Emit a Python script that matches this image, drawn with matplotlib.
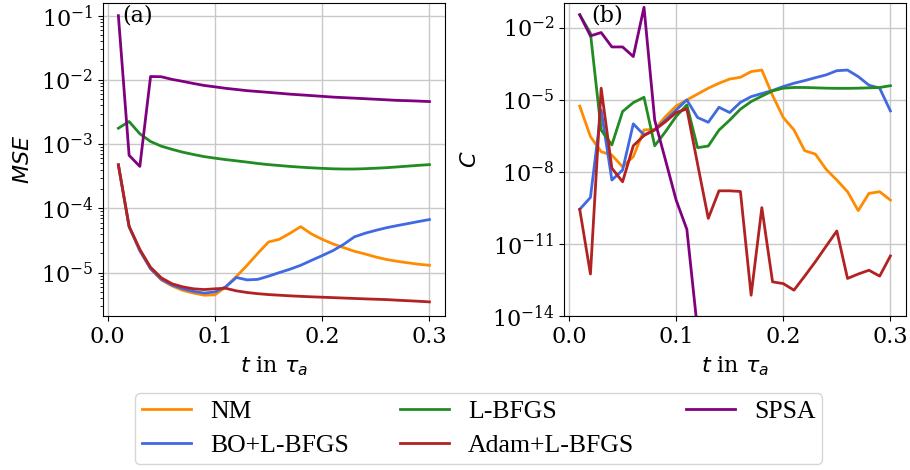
import numpy as np
import matplotlib
matplotlib.use('Agg')
import matplotlib.pyplot as plt

plt.rcParams['font.family'] = 'DejaVu Serif'
plt.rcParams['mathtext.fontset'] = 'dejavusans'

t = np.round(np.arange(1, 31) * 0.01, 2)

# MSE of each optimizer
mse_nm = [4.7e-4, 5.2e-5, 2.2e-5, 1.15e-5, 7.7e-6, 6.2e-6, 5.3e-6, 4.8e-6, 4.45e-6, 4.5e-6,
          6.0e-6, 8.7e-6, 1.3e-5, 2.0e-5, 3.0e-5, 3.3e-5, 4.1e-5, 5.2e-5, 4.0e-5, 3.3e-5,
          2.8e-5, 2.45e-5, 2.15e-5, 1.95e-5, 1.75e-5, 1.6e-5, 1.5e-5, 1.42e-5, 1.35e-5, 1.3e-5]
mse_bo = [4.7e-4, 5.2e-5, 2.2e-5, 1.15e-5, 7.9e-6, 6.4e-6, 5.6e-6, 5.1e-6, 4.8e-6, 5.0e-6,
          6.0e-6, 8.4e-6, 7.7e-6, 7.85e-6, 8.8e-6, 1.0e-5, 1.13e-5, 1.3e-5, 1.55e-5, 1.84e-5,
          2.2e-5, 2.75e-5, 3.6e-5, 4.1e-5, 4.55e-5, 5.0e-5, 5.4e-5, 5.8e-5, 6.25e-5, 6.7e-5]
mse_lbfgs = [1.77e-3, 2.25e-3, 1.45e-3, 1.1e-3, 9.3e-4, 8.3e-4, 7.5e-4, 6.9e-4, 6.4e-4, 6.05e-4,
             5.75e-4, 5.5e-4, 5.25e-4, 5.0e-4, 4.8e-4, 4.65e-4, 4.5e-4, 4.38e-4, 4.28e-4, 4.2e-4,
             4.13e-4, 4.1e-4, 4.1e-4, 4.15e-4, 4.22e-4, 4.3e-4, 4.42e-4, 4.55e-4, 4.68e-4, 4.8e-4]
mse_adam = [4.8e-4, 5.25e-5, 2.3e-5, 1.21e-5, 8.3e-6, 6.7e-6, 6.0e-6, 5.6e-6, 5.45e-6, 5.6e-6,
            5.7e-6, 5.2e-6, 4.9e-6, 4.7e-6, 4.55e-6, 4.45e-6, 4.35e-6, 4.27e-6, 4.2e-6, 4.14e-6,
            4.08e-6, 4.02e-6, 3.96e-6, 3.9e-6, 3.85e-6, 3.8e-6, 3.72e-6, 3.65e-6, 3.58e-6, 3.5e-6]
mse_spsa = [1.0e-1, 6.7e-4, 4.5e-4, 1.13e-2, 1.12e-2, 1.02e-2, 9.5e-3, 8.8e-3, 8.2e-3, 7.8e-3,
            7.4e-3, 7.1e-3, 6.8e-3, 6.6e-3, 6.4e-3, 6.2e-3, 6.0e-3, 5.85e-3, 5.7e-3, 5.55e-3,
            5.4e-3, 5.3e-3, 5.2e-3, 5.1e-3, 5.0e-3, 4.9e-3, 4.8e-3, 4.75e-3, 4.68e-3, 4.6e-3]

# cost C of each optimizer
c_nm = [5.4e-6, 2.9e-7, 6.8e-8, 4.9e-8, 1.6e-8, 4.2e-8, 5.5e-7, 5.8e-7, 1.95e-6, 5.4e-6,
        9.7e-6, 1.7e-5, 3.0e-5, 4.8e-5, 7.2e-5, 8.5e-5, 1.47e-4, 1.7e-4, 1.5e-5, 1.8e-6,
        5.5e-7, 7.5e-8, 5.4e-8, 1.26e-8, 4.5e-9, 1.47e-9, 2.4e-10, 1.25e-9, 1.47e-9, 6.6e-10]
c_bo = [2.7e-10, 8.5e-10, 3.7e-6, 4.5e-9, 1.17e-8, 9.8e-7, 3.4e-7, 5.5e-7, 1.4e-6, 3.7e-6,
        9.7e-6, 1.8e-6, 1.14e-6, 4.8e-6, 2.9e-6, 7.7e-6, 1.33e-5, 1.8e-5, 2.4e-5, 3.5e-5,
        4.8e-5, 6.2e-5, 8.2e-5, 1.07e-4, 1.6e-4, 1.7e-4, 9.1e-5, 4.0e-5, 3.0e-5, 3.4e-6]
c_lbfgs = [3.4e-2, 5.8e-3, 5.4e-7, 1.3e-7, 3.2e-6, 7.5e-6, 1.25e-5, 1.2e-7, 4.6e-7, 2.0e-6,
           6.0e-6, 1.0e-7, 1.17e-7, 5.4e-7, 1.4e-6, 4.0e-6, 8.3e-6, 1.4e-5, 2.3e-5, 3.0e-5,
           3.2e-5, 3.2e-5, 3.1e-5, 3.0e-5, 2.95e-5, 2.95e-5, 3.0e-5, 3.1e-5, 3.2e-5, 3.8e-5]
c_adam = [2.7e-10, 5.5e-13, 3.0e-5, 1.4e-8, 3.8e-9, 1.2e-7, 3.2e-7, 5.5e-7, 1.2e-6, 2.9e-6,
          4.1e-6, 2.1e-8, 1.14e-10, 1.6e-9, 1.6e-9, 1.5e-9, 7.2e-14, 3.2e-10, 2.6e-13, 2.2e-13,
          1.17e-13, 4.5e-13, 1.8e-12, 7.9e-12, 3.4e-11, 3.6e-13, 5.5e-13, 7.9e-13, 4.5e-13, 3.1e-12]
c_spsa = [3.4e-2, 4.5e-3, 6.2e-3, 1.56e-3, 1.56e-3, 6.2e-4, 7.0e-2, 1.4e-6, 3.1e-8, 6.6e-10,
          4.0e-11, 2.5e-15] + [np.nan] * 18

labels = ['NM', 'BO+L-BFGS', 'L-BFGS', 'Adam+L-BFGS', 'SPSA']
colors = ['darkorange', 'royalblue', 'forestgreen', 'firebrick', 'purple']

fig = plt.figure(figsize=(9.1, 4.7), dpi=100)
ax1 = fig.add_axes([0.113, 0.328, 0.376, 0.665])
ax2 = fig.add_axes([0.620, 0.328, 0.3755, 0.665])

lines = []
for y, c, lab in zip([mse_nm, mse_bo, mse_lbfgs, mse_adam, mse_spsa], colors, labels):
    l, = ax1.plot(t, y, color=c, lw=2, label=lab)
    lines.append(l)
for y, c in zip([c_nm, c_bo, c_lbfgs, c_adam, c_spsa], colors):
    ax2.plot(t, y, color=c, lw=2)

ax1.set_yscale('log')
ax1.set_ylim(10**-5.673, 10**-0.807)
ax1.set_ylabel('$MSE$', fontsize=16, labelpad=5)
ax1.text(0.058, 0.995, '(a)', transform=ax1.transAxes, va='top', fontsize=16)

ax2.set_yscale('log')
ax2.set_ylim(1e-14, 10**-0.99)
ax2.set_yticks([1e-2, 1e-5, 1e-8, 1e-11, 1e-14])
ax2.set_ylabel('$C$', fontsize=16, labelpad=8)
ax2.text(0.08, 0.995, '(b)', transform=ax2.transAxes, va='top', fontsize=16)

for ax in (ax1, ax2):
    ax.set_xlim(-0.0045, 0.3145)
    ax.set_xticks([0.0, 0.1, 0.2, 0.3])
    ax.set_xlabel(r'$t$ in $\tau_a$', fontsize=16, labelpad=5)
    ax.tick_params(labelsize=16)
    ax.grid(True, which='major', color='#c8c8c8', lw=1)

fig.legend(handles=lines, loc='center', bbox_to_anchor=(0.526, 0.088), ncol=3,
           prop={'family': 'Liberation Serif', 'size': 18.5},
           handlelength=1.9, handletextpad=0.75, columnspacing=2.0,
           labelspacing=0.45, borderpad=0.25)

fig.savefig('out.png', dpi=100)
